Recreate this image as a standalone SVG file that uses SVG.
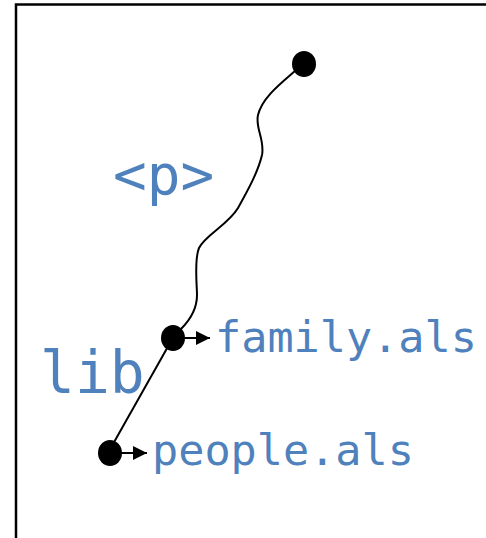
<svg xmlns="http://www.w3.org/2000/svg" width="486" height="538" viewBox="0 0 486 538">
  <style>
    .lbl { font-family: "DejaVu Sans Mono", "Liberation Mono", monospace; fill: #4f81bd; }
    .dot { fill: #000; }
    .wire { fill: none; stroke: #000; stroke-width: 2; }
    .ptr { fill: none; stroke: #000; stroke-width: 2; marker-end: url(#head); }
  </style>
  <defs>
    <marker id="head" markerUnits="userSpaceOnUse" markerWidth="14" markerHeight="14" refX="14" refY="7" orient="auto">
      <path d="M0,0 L14,7 L0,14 Z" fill="#000"/>
    </marker>
  </defs>
  <rect x="16" y="4.5" width="520" height="580" fill="#fff" stroke="#000" stroke-width="2.5"/>

  <g id="connectors">
    <path class="wire" d="M295,71 C280,84 262,98 258,115 C255,128 265,140 262,155 C258,172 248,190 238,208 C228,225 205,235 199,248 C194,260 197,285 197,295 C197,310 190,320 181,329"/>
    <path class="wire" d="M170,343 L113,444"/>
    <path class="ptr" d="M184,338 L210,338"/>
    <path class="ptr" d="M121,453 L147,453"/>
  </g>

  <g id="root">
    <ellipse class="dot" cx="304" cy="64" rx="12" ry="13"/>
  </g>
  <g id="lib">
    <ellipse class="dot" cx="173" cy="338" rx="12" ry="13"/>
  </g>
  <g id="people">
    <ellipse class="dot" cx="110" cy="453" rx="12" ry="13"/>
  </g>

  <text class="lbl" x="113" y="194" font-size="56">&lt;p&gt;</text>
  <text class="lbl" x="40" y="393" font-size="58">lib</text>
  <text class="lbl" x="215" y="352" font-size="43.5">family.als</text>
  <text class="lbl" x="152" y="465" font-size="43.5">people.als</text>
</svg>
